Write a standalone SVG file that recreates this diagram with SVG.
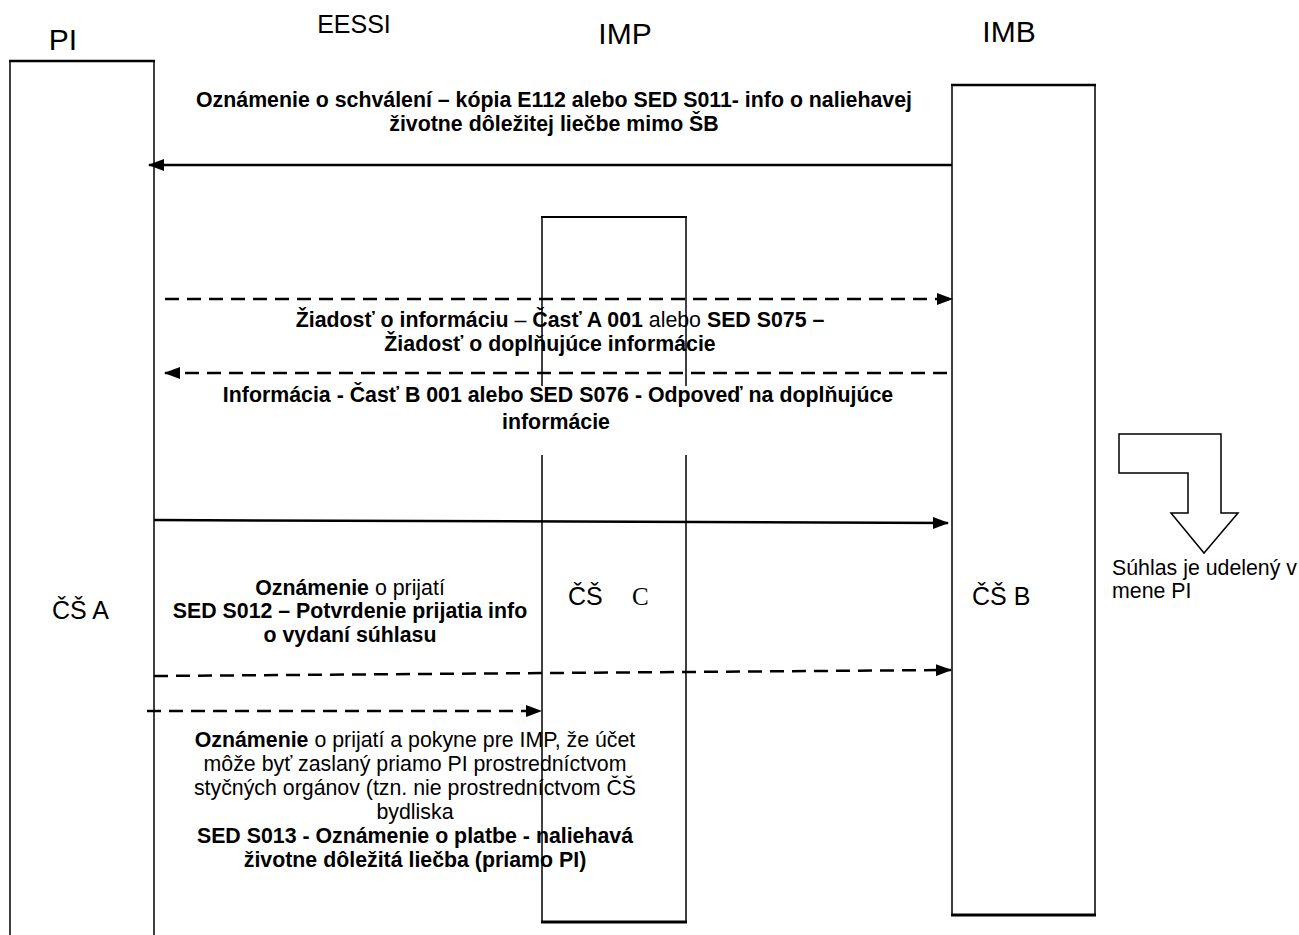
<svg xmlns="http://www.w3.org/2000/svg" width="1299" height="935" viewBox="0 0 1299 935">
<defs>
<marker id="ah" markerUnits="userSpaceOnUse" markerWidth="16" markerHeight="12" refX="15" refY="6" orient="auto"><path d="M0,0 L16,6 L0,12 z" fill="#000"/></marker>
<style>
text{font-family:"Liberation Sans",Arial,sans-serif;fill:#000}
.h{font-size:30px;text-anchor:middle}
.lb{font-size:21.33px;font-weight:bold;text-anchor:middle}
.ln{font-size:21.33px;text-anchor:middle}
.n{font-weight:normal}
.b{font-weight:bold}
.cs{font-size:25px}
.ln2{stroke:#000;stroke-width:1.5;fill:none}
.thick{stroke:#000;stroke-width:3;fill:none}
.sol{stroke:#000;stroke-width:2.5;fill:none}
.dash{stroke:#000;stroke-width:2.5;stroke-dasharray:14 8;fill:none}
</style>
</defs>
<rect width="1299" height="935" fill="#fff"/>

<g id="headers">
<text class="h" x="63" y="50">PI</text>
<text class="h" x="354" y="33" style="font-size:25px">EESSI</text>
<text class="h" x="625" y="44">IMP</text>
<text class="h" x="1009" y="42">IMB</text>
</g>

<g id="node-PI">
<path class="ln2" d="M10,61 V935 M154,61 V935"/>
<path class="thick" d="M9,61 H155" style="stroke-width:2.5"/>
<text class="cs" x="52" y="619">ČŠ A</text>
</g>

<g id="node-IMP">
<path class="ln2" d="M542,217 V922 M686,217 V922"/>
<path class="ln2" d="M541,217 H687" style="stroke-width:2"/>
<path class="thick" d="M541,922 H687"/>
<text class="cs" x="568" y="605">ČŠ</text>
<text x="632" y="605" style="font-family:'Liberation Serif','Times New Roman',serif;font-size:25px">C</text>
</g>

<g id="node-IMB">
<path class="ln2" d="M952,85 V915 M1095,85 V915"/>
<path class="ln2" d="M951,85 H1096" style="stroke-width:2.5"/>
<path class="thick" d="M951,915 H1096"/>
<text class="cs" x="972" y="605">ČŠ B</text>
</g>

<g id="note-consent">
<polygon points="1119,434 1221,434 1221,513 1238,513 1204,553 1171,513 1188,513 1188,473 1119,473" fill="#fff" stroke="#000" stroke-width="1.5"/>
<text x="1112" y="575" style="font-size:21.33px">Súhlas je udelený v</text>
<text x="1112" y="598" style="font-size:21.33px">mene PI</text>
</g>

<g id="connectors">
<path class="sol" d="M952,165 L149,165" marker-end="url(#ah)"/>
<path class="dash" d="M165,299 L952,299" marker-end="url(#ah)"/>
<path class="dash" d="M947,373 L165,373" marker-end="url(#ah)"/>
<path class="sol" d="M154,520 L948,523" marker-end="url(#ah)"/>
<path class="dash" d="M154,676 L951,670" marker-end="url(#ah)"/>
<path class="dash" d="M147,711 L541,711" marker-end="url(#ah)"/>
</g>

<g id="label-1">
<text class="lb" x="554" y="107">Oznámenie o schválení – kópia E112 alebo SED S011- info o naliehavej</text>
<text class="lb" x="554" y="131">životne dôležitej liečbe mimo ŠB</text>
</g>

<g id="label-2">
<text class="lb" x="560" y="327">Žiadosť o informáciu<tspan class="n"> – </tspan>Časť A 001<tspan class="n"> alebo </tspan>SED S075 –</text>
<text class="lb" x="550" y="351">Žiadosť o doplňujúce informácie</text>
</g>

<g id="label-3">
<rect x="165" y="386" width="775" height="69" fill="#fff"/>
<text class="lb" x="558" y="402">Informácia - Časť B 001 alebo SED S076 - Odpoveď na doplňujúce</text>
<text class="lb" x="556" y="429">informácie</text>
</g>

<g id="label-4">
<text class="ln" x="350" y="595"><tspan class="b">Oznámenie</tspan> o prijatí</text>
<text class="lb" x="350" y="618">SED S012 – Potvrdenie prijatia info</text>
<text class="lb" x="350" y="642">o vydaní súhlasu</text>
</g>

<g id="label-5">
<text class="ln" x="415" y="747"><tspan class="b">Oznámenie</tspan> o prijatí a pokyne pre IMP, že účet</text>
<text class="ln" x="415" y="771">môže byť zaslaný priamo PI prostredníctvom</text>
<text class="ln" x="415" y="795">styčných orgánov (tzn. nie prostredníctvom ČŠ</text>
<text class="ln" x="415" y="819">bydliska</text>
<text class="lb" x="415" y="843">SED S013 - Oznámenie o platbe - naliehavá</text>
<text class="lb" x="415" y="867">životne dôležitá liečba (priamo PI)</text>
</g>
</svg>
